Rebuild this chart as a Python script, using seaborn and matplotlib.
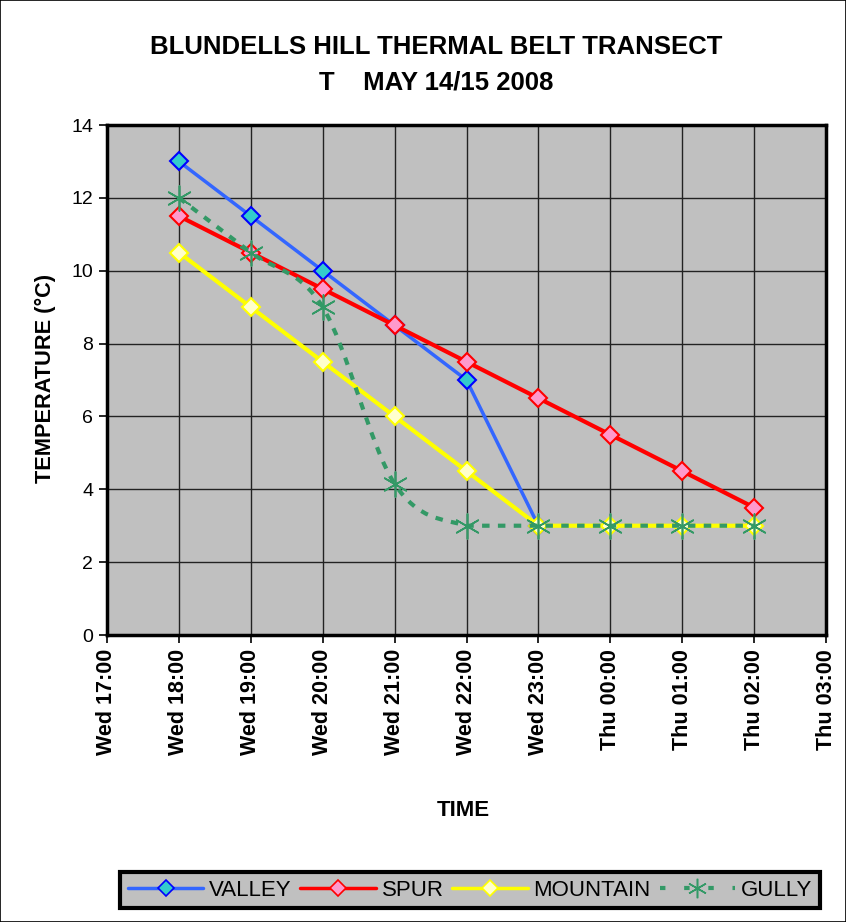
import numpy as np
import pandas as pd
import matplotlib
matplotlib.use("Agg")
import matplotlib.pyplot as plt
from matplotlib.path import Path
from matplotlib.patches import PathPatch, Rectangle
from matplotlib.lines import Line2D
import seaborn as sns

# ---- data ----
hours = [18, 19, 20, 21, 22, 23, 24, 25, 26]          # hours after Wed 00:00
valley = [13, 11.5, 10, 8.5, 7, 3, None, None, None]
spur = [11.5, 10.5, 9.5, 8.5, 7.5, 6.5, 5.5, 4.5, 3.5]
mountain = [10.5, 9, 7.5, 6, 4.5, 3, 3, 3, 3]
gully = [12, 10.5, 9, 4.15, 3, 3, 3, 3, 3]
tick_hours = list(range(17, 28))
tick_labels = ["Wed 17:00", "Wed 18:00", "Wed 19:00", "Wed 20:00", "Wed 21:00",
               "Wed 22:00", "Wed 23:00", "Thu 00:00", "Thu 01:00", "Thu 02:00",
               "Thu 03:00"]
y_ticks = [0, 2, 4, 6, 8, 10, 12, 14]

sns.set_theme(style="white")
plt.rcParams['font.family'] = ['Liberation Sans', 'DejaVu Sans']
plt.rcParams['text.color'] = 'black'
plt.rcParams['xtick.color'] = 'black'
plt.rcParams['ytick.color'] = 'black'
plt.rcParams['axes.labelcolor'] = 'black'

W, H = 846, 922
fig = plt.figure(figsize=(W / 100, H / 100), dpi=100)
fig.patch.set_facecolor("white")
fig.patches.append(Rectangle((0, 0), 1, 1, transform=fig.transFigure, fill=False,
                             edgecolor="black", linewidth=1.2))

L, R, T, B = 107, 826, 125, 635
ax = fig.add_axes([L / W, 1 - B / H, (R - L) / W, (B - T) / H])
ax.set_facecolor("#C0C0C0")

df = pd.DataFrame({"hour": hours, "VALLEY": valley, "SPUR": spur,
                   "MOUNTAIN": mountain, "GULLY": gully})

styles = {
    "VALLEY": dict(color="#3366FF", mfc="#33CCCC", mec="#0000FF"),
    "SPUR": dict(color="#FF0000", mfc="#FF99CC", mec="#FF0000"),
    "MOUNTAIN": dict(color="#FFFF00", mfc="#FFFFCC", mec="#FFFF00"),
}
z = {"VALLEY": 5, "SPUR": 6, "MOUNTAIN": 7}
for name in ["VALLEY", "SPUR", "MOUNTAIN"]:
    st = styles[name]
    sub = df[["hour", name]].dropna()
    sns.lineplot(data=sub, x="hour", y=name, ax=ax, color=st["color"],
                 linewidth=2.5 if name == "VALLEY" else 3,
                 marker="D", markersize=9, markerfacecolor=st["mfc"],
                 markeredgecolor=st["mec"], markeredgewidth=1.5,
                 zorder=z[name], legend=False)

# gully smoothed curve (Bezier through data points)
gx = np.array(hours, float)
gy = np.array(gully, float)
verts = [(gx[0], gy[0])]
codes = [Path.MOVETO]
n = len(gx)
for i in range(n - 1):
    p0 = np.array([gx[max(i - 1, 0)], gy[max(i - 1, 0)]])
    p1 = np.array([gx[i], gy[i]])
    p2 = np.array([gx[i + 1], gy[i + 1]])
    p3 = np.array([gx[min(i + 2, n - 1)], gy[min(i + 2, n - 1)]])
    c1 = p1 + (p2 - p0) / 6.0
    c2 = p2 - (p3 - p1) / 6.0
    c1[1] = max(c1[1], min(p1[1], p2[1]))
    c2[1] = max(c2[1], min(p1[1], p2[1]))
    verts += [tuple(c1), tuple(c2), tuple(p2)]
    codes += [Path.CURVE4] * 3
gcol = "#339966"
ax.add_patch(PathPatch(Path(verts, codes), fill=False, edgecolor=gcol,
                       linewidth=3, linestyle=(0, (1.8, 2.0)), capstyle="butt",
                       zorder=8))
sns.scatterplot(data=df, x="hour", y="GULLY", ax=ax, marker=(6, 2, 0), s=320,
                color=gcol, linewidth=1.2, zorder=9, legend=False)

ax.set_xlim(17, 27)
ax.set_ylim(0, 14)
ax.set_xticks(tick_hours)
ax.set_xticklabels(tick_labels, rotation=90, fontsize=15.5, fontweight="bold")
ax.set_yticks(y_ticks)
ax.set_yticklabels([str(v) for v in y_ticks], fontsize=14)
ax.tick_params(axis="both", direction="out", length=6, width=1.2, color="black",
               bottom=True, left=True, pad=4)
ax.grid(True, color="#222222", linewidth=1.0)
ax.set_axisbelow(True)
for sp in ax.spines.values():
    sp.set_visible(True)
    sp.set_color("black")
    sp.set_linewidth(2.5)
ax.set_xlabel("")
ax.set_ylabel("")

fig.text(436 / W, 1 - 47 / H, "BLUNDELLS HILL THERMAL BELT TRANSECT", ha="center",
         va="center", fontsize=18.5, fontweight="bold")
fig.text(436 / W, 1 - 83 / H, "T    MAY 14/15 2008", ha="center",
         va="center", fontsize=18.5, fontweight="bold")
fig.text(463 / W, 1 - 810 / H, "TIME", ha="center", va="center", fontsize=16,
         fontweight="bold")
fig.text(45 / W, 1 - 378 / H, "TEMPERATURE (°C)", ha="center", va="center",
         fontsize=15.7, fontweight="bold", rotation=90)

handles = []
for name in ["VALLEY", "SPUR", "MOUNTAIN"]:
    st = styles[name]
    handles.append(Line2D([], [], color=st["color"], linewidth=2.5, marker="D",
                          markersize=8, markerfacecolor=st["mfc"],
                          markeredgecolor=st["mec"], markeredgewidth=1.2, label=name))
handles.append(Line2D([], [], color=gcol, linewidth=3, linestyle=(0, (1.3, 4.5)),
                      marker=(6, 2, 0), markersize=14, markeredgewidth=1.1, label="GULLY"))
leg = fig.legend(handles=handles, loc="center", ncol=4,
                 bbox_to_anchor=(470 / W, 1 - 890 / H), fontsize=16,
                 frameon=True, fancybox=False, handlelength=3.4,
                 columnspacing=0.4, handletextpad=0.25, borderpad=0.35)
fr = leg.get_frame()
fr.set_facecolor("#C0C0C0")
fr.set_edgecolor("black")
fr.set_linewidth(3)
fr.set_alpha(1)

fig.savefig("out.png", dpi=100)
